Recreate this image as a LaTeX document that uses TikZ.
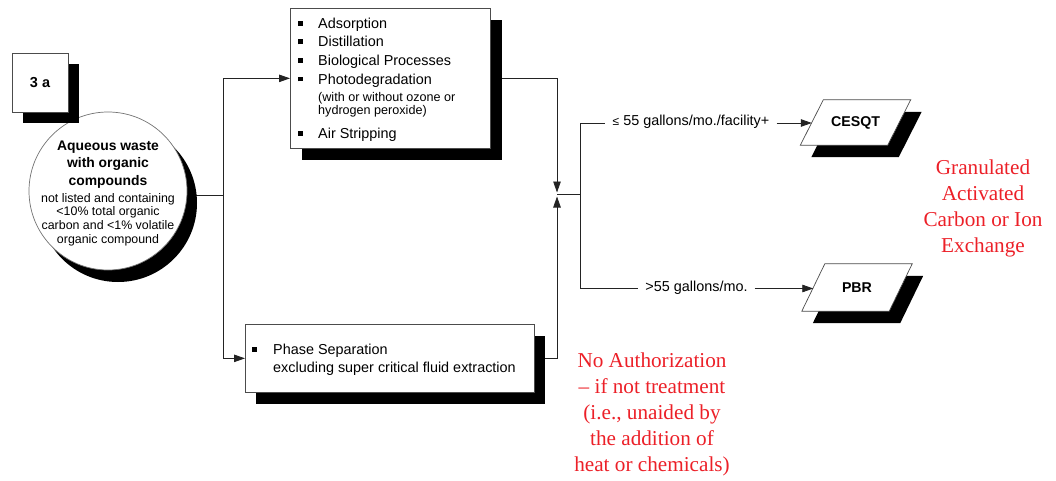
\documentclass[tikz,border=0pt]{standalone}
\usepackage{fontspec}
\setmainfont{Liberation Sans}
\newfontfamily\notefont{Liberation Serif}
\usetikzlibrary{arrows.meta,shadows,backgrounds}
\definecolor{notered}{RGB}{236,32,40}
\definecolor{wirecol}{RGB}{35,35,35}
\newcommand\sqbullet{\rule[2.6pt]{4.8pt}{4.8pt}}
\newcommand\fs[2]{\fontsize{#1}{#2}\selectfont}

\begin{document}
\begin{tikzpicture}[x=1pt,y=-1pt,
  box/.style={draw=black!70, line width=0.7pt, fill=white, inner sep=0pt},
  boxshadow/.style 2 args={general shadow={fill=black, shadow xshift=#1, shadow yshift=-#2}},
  wire/.style={draw=wirecol, line width=0.8pt},
  arr/.style={wire, -{Triangle[length=11pt,width=7.5pt]}},
  txt/.style={inner sep=0pt, anchor=base west, font=\fs{14.4}{17}},
  smalltxt/.style={inner sep=0pt, anchor=base west, font=\fs{12.6}{14}},
  ctitle/.style={inner sep=0pt, anchor=base, font=\bfseries\fs{13.9}{17}},
  cnote/.style={inner sep=0pt, anchor=base, font=\fs{12.4}{14}},
  lbl/.style={inner xsep=7pt, inner ysep=0pt, anchor=mid, font=\fs{14.4}{17}},
  dest/.style={inner sep=0pt, minimum width=87pt, font=\bfseries\fs{14.2}{17}},
  note/.style={inner sep=0pt, anchor=north, align=center, text=notered, font=\notefont\fs{21.2}{25.9}},
]
\useasboundingbox (0,0) rectangle (1056,481);

% source: aqueous waste
\node[box, draw=black!55, circle, minimum size=158pt, boxshadow={10pt}{12pt}] (src) at (108,191) {};
\node[ctitle] (s1) at (108,150) {Aqueous waste};
\node[ctitle] (s2) at (108,167.3) {with organic};
\node[ctitle] (s3) at (108,185.5) {compounds};
\node[cnote] (s4) at (108,202.3) {not listed and containing};
\node[cnote] (s5) at (108,215.9) {<10\% total organic};
\node[cnote] (s6) at (108,229.5) {carbon and <1\% volatile};
\node[cnote] (s7) at (108,243.2) {organic compound};

% category tag
\node[box, minimum width=56pt, minimum height=59pt, boxshadow={11pt}{11pt}, font=\bfseries\fs{14.5}{17}] (tag) at (40,82.5) {3 a};

% treatment processes
\node[box, anchor=north west, minimum width=200pt, minimum height=140pt, boxshadow={12pt}{12pt}] (proc) at (290,8) {};
\node[txt] (p1) at (298,28.3) {\makebox[20pt][l]{\sqbullet}Adsorption};
\node[txt] (p2) at (298,46.9) {\makebox[20pt][l]{\sqbullet}Distillation};
\node[txt] (p3) at (298,65.4) {\makebox[20pt][l]{\sqbullet}Biological Processes};
\node[txt] (p4) at (298,84.1) {\makebox[20pt][l]{\sqbullet}Photodegradation};
\node[smalltxt] (p5) at (318,102) {(with or without ozone or};
\node[smalltxt] (p6) at (318,115) {hydrogen peroxide)};
\node[txt] (p7) at (298,138.3) {\makebox[20pt][l]{\sqbullet}Air Stripping};

% phase separation
\node[box, anchor=north west, minimum width=289pt, minimum height=68pt, boxshadow={11pt}{12pt}] (phase) at (245,324) {};
\node[txt] (q1) at (252,354.3) {\makebox[21pt][l]{\sqbullet}Phase Separation};
\node[txt] (q2) at (273,372.7) {excluding super critical fluid extraction};

% destinations
\node[dest, minimum height=45pt] (cesqt) at (855.5,122.5) {CESQT};
\node[dest, minimum height=47pt] (pbr) at (857,287.5) {PBR};

% quantity labels
\node[lbl] (lab1) at (691,123) {{\fs{12}{12}≤} 55 gallons/mo./facility+};
\node[lbl] (lab2) at (696.5,288.5) {>55 gallons/mo.};

% notes
\node[note] (gac) at (983,159.6) {Granulated\\Activated\\Carbon or Ion\\Exchange};
\node[note] (noauth) at (652,353) {No Authorization\\– if not treatment\\(i.e., unaided by\\the addition of\\heat or chemicals)};

\coordinate (split) at (223,195);
\coordinate (jt) at (557,192.5);
\coordinate (jb) at (557,196.5);
\coordinate (junc) at (557,194.5);
\coordinate (branch) at (580,194.5);

\begin{scope}[on background layer]
  \foreach \n in {cesqt,pbr}{
    \fill[black] ([xshift=-0.5pt,yshift=-12pt]\n.south west) -- ([xshift=22.5pt,yshift=-12pt]\n.north west)
      -- ([xshift=22.5pt,yshift=-12pt]\n.north east) -- ([xshift=-0.5pt,yshift=-12pt]\n.south east) -- cycle;
    \path[box] ([xshift=-11.5pt]\n.south west) -- ([xshift=11.5pt]\n.north west)
      -- ([xshift=11.5pt]\n.north east) -- ([xshift=-11.5pt]\n.south east) -- cycle;
  }
  \draw[wire] (src.east |- split) -- (split);
  \draw[arr] (split) |- (proc.west);
  \draw[arr] (split) |- (phase.west);
  \draw[arr] (proc.east) -| (jt);
  \draw[arr] (phase.east) -| (jb);
  \draw[wire] (junc) -- (branch);
  \draw[wire] (branch) |- (lab1.mid west);
  \draw[wire] (branch) |- (lab2.mid west);
  \draw[arr] (lab1.mid east) -- (lab1.mid east -| cesqt.west);
  \draw[arr] (lab2.mid east) -- (lab2.mid east -| pbr.west);
\end{scope}
\end{tikzpicture}
\end{document}
